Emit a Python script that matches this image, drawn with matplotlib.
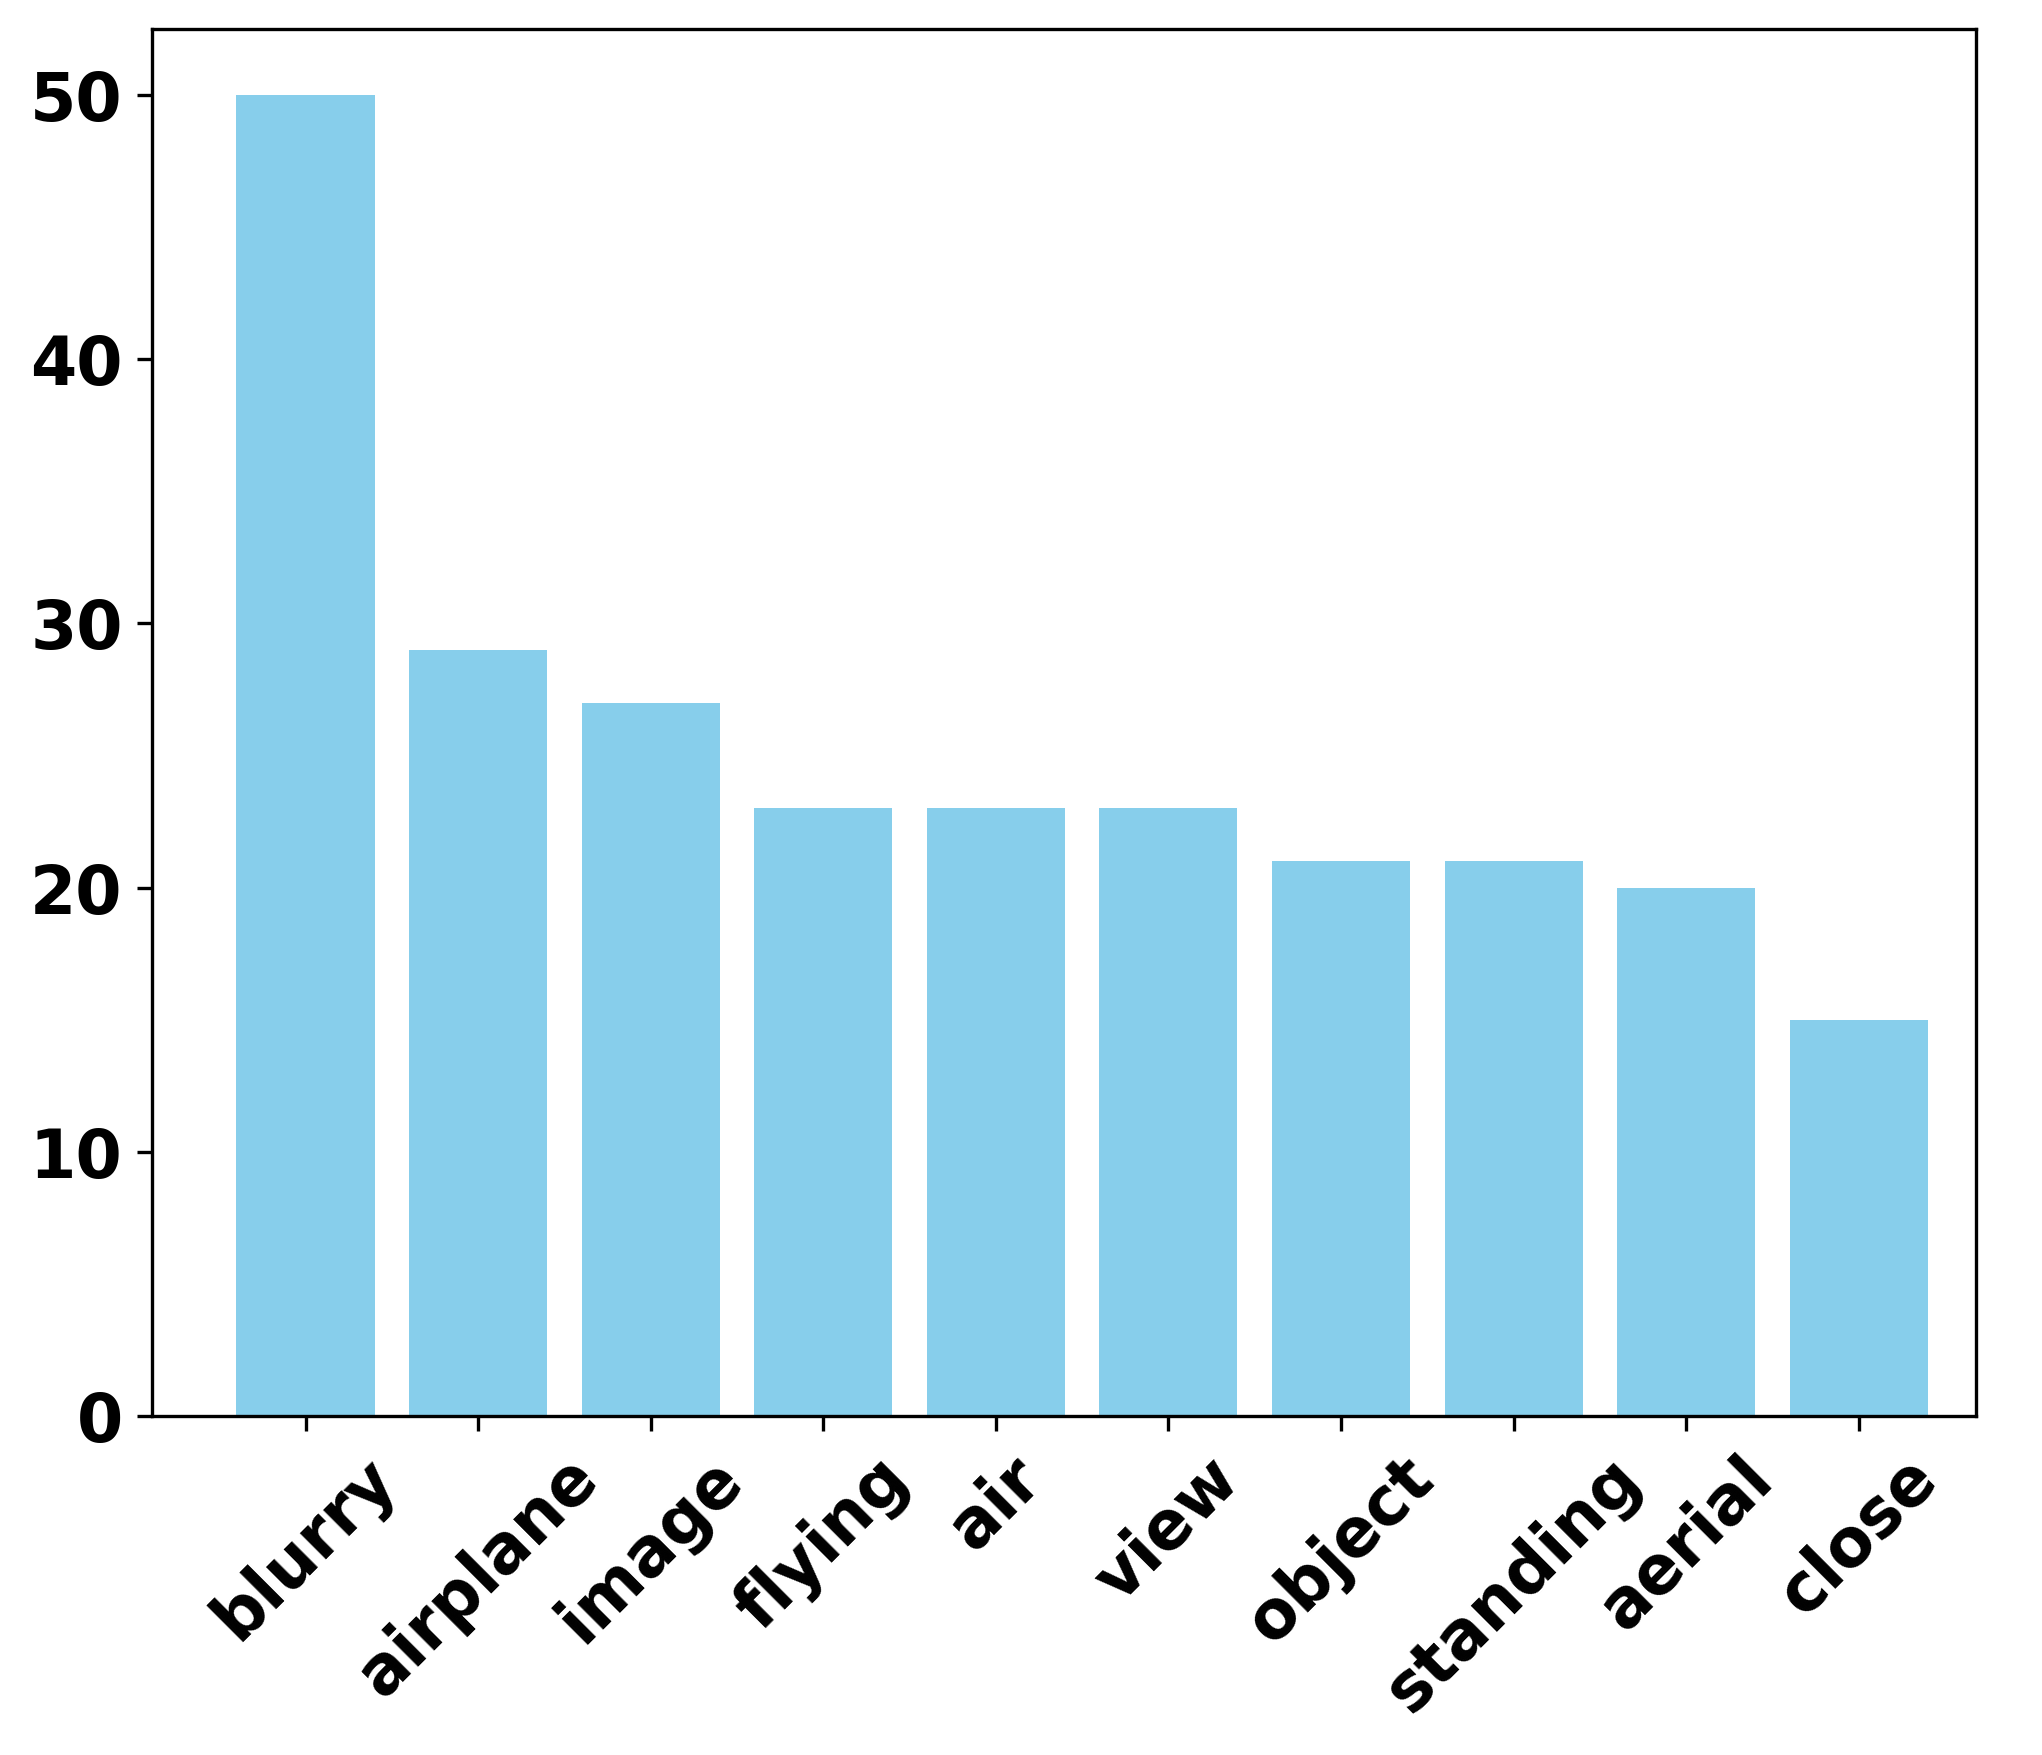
import matplotlib

matplotlib.use("Agg")
import matplotlib.pyplot as plt  # noqa: E402

words = ["blurry", "airplane", "image", "flying", "air", "view",
         "object", "standing", "aerial", "close"]
counts = [50, 29, 27, 23, 23, 23, 21, 21, 20, 15]

plt.rcParams["font.weight"] = "bold"
plt.rcParams["font.size"] = 16

fig, ax = plt.subplots(figsize=(2042 / 300, 1755 / 300), dpi=300)
fig.subplots_adjust(left=0.0744, right=0.9677, top=0.9835, bottom=0.1932)

ax.bar(range(len(words)), counts, color="skyblue", width=0.8)
ax.set_xticks(range(len(words)), words, rotation=45)
ax.set_xlim(-0.89, 9.68)
for lbl in ax.get_xticklabels() + ax.get_yticklabels():
    lbl.set_fontweight("bold")

fig.savefig("out.png", dpi=300)
plt.close(fig)
